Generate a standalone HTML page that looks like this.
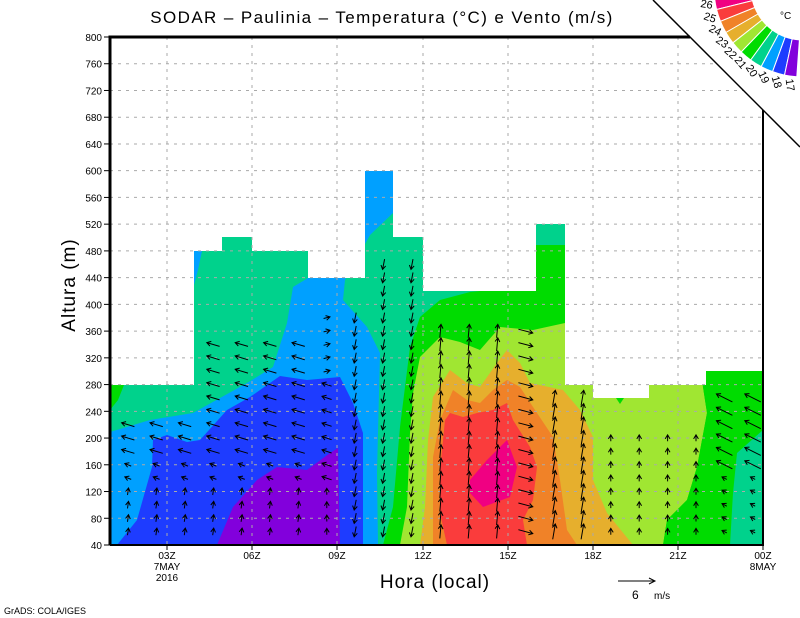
<!DOCTYPE html>
<html><head><meta charset="utf-8"><style>
html,body{margin:0;padding:0;background:#fff;}
svg{display:block;font-family:"Liberation Sans",sans-serif;}
</style></head><body>
<svg id="s" width="800" height="618" viewBox="0 0 800 618" xmlns="http://www.w3.org/2000/svg">
<defs><clipPath id="pc"><polygon points="110,37 690,37 763,110 763,545 110,545"/></clipPath></defs>
<g clip-path="url(#pc)">
<rect x="110" y="37" width="653" height="508" fill="#00d28c"/>
<polygon fill="#00a0ff" points="110,432 150,420 193,413 247,383 273,367 287,323 293,287 308,278 345,278 365,270 365,171 393,171 393,213 370,235 345,280 343,300 367,327 380,353 377,473 378,545 110,545"/>
<polygon fill="#00a0ff" points="194,251 202,251 198,270 194,285"/>
<polygon fill="#1e3cff" points="117,545 137,520 152,467 153,440 167,435 187,442 200,440 227,410 250,397 280,376 307,380 340,377 353,403 363,433 363,545"/>
<polygon fill="#8200dc" points="217,545 233,507 257,480 277,467 307,470 330,453 338,448 340,545"/>
<polygon fill="#00dc00" points="383,545 393,507 400,427 410,347 420,317 440,300 470,292 480,291 536,291 536,245 565,245 565,291 763,291 763,545"/>
<polygon fill="#a0e632" points="400,545 407,507 410,433 413,393 420,357 440,337 460,342 480,350 500,327 533,330 565,323 593,320 690,320 703,387 707,413 697,467 687,500 667,520 663,545"/>
<polygon fill="#e6af2d" points="420,545 425,507 428,440 433,397 450,370 467,383 480,387 497,363 507,350 520,363 530,383 563,390 580,410 593,437 593,480 607,513 633,545"/>
<polygon fill="#f08228" points="433,545 433,507 433,457 440,420 453,390 467,400 480,403 493,390 507,380 520,387 533,407 553,437 560,480 567,530 577,545"/>
<polygon fill="#fa3c3c" points="447,545 440,513 440,470 445,420 450,413 463,417 477,413 493,410 507,403 513,420 530,447 537,467 533,500 523,520 527,545"/>
<polygon fill="#f00082" points="470,480 487,460 507,440 517,467 510,497 483,507 470,493"/>
<polygon fill="#00dc00" points="703,371 763,371 763,545 663,545 667,520 687,500 697,467 707,413 703,387"/>
<polygon fill="#00d28c" points="763,430 737,453 733,493 730,545 763,545"/>
<polygon fill="#00dc00" points="616,398 624,398 620,404"/>
<polygon fill="#00dc00" points="110,410 118,400 124,385 110,385"/>
<polygon fill="#fff" points="110,37 763,37 763,371 706,371 706,385 649,385 649,398 593,398 593,385 565,385 565,224 536,224 536,291 423,291 423,237 393,237 393,171 365,171 365,278 308,278 308,251 252,251 252,237 222,237 222,251 194,251 194,385 110,385"/>
<g id="grid" stroke="#aaa" stroke-width="1" stroke-dasharray="3,5"></g>
<g id="arr" stroke="#000" stroke-width="1" fill="none"></g>
</g>
<g id="ticks" stroke="#000" stroke-width="1"></g>
<g id="lbl" font-size="10" fill="#000"></g>
<path d="M110,545 L110,37 L690,37" stroke="#000" stroke-width="3" fill="none"/>
<path d="M110,545 L763,545 L763,110" stroke="#000" stroke-width="2" fill="none"/>
<line x1="653" y1="0" x2="800" y2="147" stroke="#000" stroke-width="1.5"/>
<g id="wheel"></g>
<text x="780" y="19" font-size="10">°C</text>
<text x="382" y="23" font-size="17" text-anchor="middle" letter-spacing="1.4">SODAR – Paulinia – Temperatura (°C) e Vento (m/s)</text>
<text x="75" y="285" font-size="19" text-anchor="middle" transform="rotate(-90 75 285)" letter-spacing="1">Altura (m)</text>
<text x="435" y="588" font-size="19" text-anchor="middle" letter-spacing="1">Hora (local)</text>
<text x="167" y="570" font-size="10" text-anchor="middle">7MAY</text>
<text x="167" y="581" font-size="10" text-anchor="middle">2016</text>
<text x="763" y="570" font-size="10" text-anchor="middle">8MAY</text>
<line x1="618" y1="581" x2="655" y2="581" stroke="#000"/>
<path d="M649,578 L655,581 L649,584" stroke="#000" fill="none"/>
<text x="632" y="599" font-size="12">6</text><text x="654" y="599" font-size="10">m/s</text>
<text x="4" y="614" font-size="9">GrADS: COLA/IGES</text>
</svg>
<script>
var NS="http://www.w3.org/2000/svg";
function el(p,t,a,txt){var e=document.createElementNS(NS,t);for(var k in a)e.setAttribute(k,a[k]);if(txt)e.textContent=txt;document.getElementById(p).appendChild(e);}
function Y(m){return 545-(m-40)*0.66842;}
var xs=[167,252,337,423,508,593,678,763],xl=["03Z","06Z","09Z","12Z","15Z","18Z","21Z","00Z"];
for(var m=80;m<=760;m+=40){el("grid","line",{x1:110,x2:763,y1:Y(m),y2:Y(m)});}
for(var i=0;i<7;i++){el("grid","line",{x1:xs[i],x2:xs[i],y1:37,y2:545});}
for(var m=40;m<=800;m+=40){el("ticks","line",{x1:104,x2:110,y1:Y(m),y2:Y(m)});el("lbl","text",{x:102,y:Y(m)+4,"text-anchor":"end"},String(m));}
for(var i=0;i<8;i++){el("ticks","line",{x1:xs[i],x2:xs[i],y1:545,y2:550});el("lbl","text",{x:xs[i],y:559,"text-anchor":"middle"},xl[i]);}
var cols=["#f00082","#fa3c3c","#f08228","#e6af2d","#a0e632","#00dc00","#00d28c","#00a0ff","#1e3cff","#8200dc"];
var cx=803,cy=-12,r0=52,r1=89;
function P(r,a){return (cx+r*Math.cos(a)).toFixed(1)+","+(cy+r*Math.sin(a)).toFixed(1);}
for(var i=0;i<10;i++){var d0=174-8*i,d1=d0-8,a0=d0*Math.PI/180,a1=d1*Math.PI/180;
el("wheel","path",{d:"M"+P(r0,a0)+" L"+P(r1,a0)+" A"+r1+","+r1+" 0 0 0 "+P(r1,a1)+" L"+P(r0,a1)+" A"+r0+","+r0+" 0 0 1 "+P(r0,a0)+"Z",fill:cols[i],stroke:"#fff","stroke-width":1});
var ab=d0-4,a=ab*Math.PI/180,lx=cx+98*Math.cos(a),ly=cy+98*Math.sin(a);
el("wheel","text",{x:lx,y:ly,"font-size":11,"text-anchor":"middle","dominant-baseline":"middle",transform:"rotate("+(180-ab)+" "+lx+" "+ly+")"},String(26-i));}
var steps=[[110,194,280],[194,222,480],[222,252,500],[252,308,480],[308,365,440],[365,393,600],[393,423,500],[423,536,420],[536,565,520],[565,593,280],[593,649,260],[649,706,280],[706,764,300]];
function topm(x){for(var i=0;i<steps.length;i++)if(x>=steps[i][0]&&x<steps[i][1])return steps[i][2];return 0;}
function cap(x){if(x<194)return 220;if(x<300)return 340;if(x<365)return 380;if(x<440)return 460;if(x<536)return 360;if(x<600)return 260;if(x<700)return 200;return 260;}
function wind(x,m){
 if(x<300){ if(m<130)return [0.3,2.2]; if(m<180)return [-2,0.8]; return [-4,1.2];}
 if(x<350){ if(m<140)return [0,2]; if(m<300)return [-3,1];return [2,0.5];}
 if(x<425)return [-0.6,-3.2];
 if(x<500)return [0.4,4.2];
 if(x<530)return [4.5,-1.2];
 if(x<590)return [0.8,4.8];
 if(x<700)return [0,2];
 if(m<150)return [-1.5,0.8];
 return [-5,2.5];}
for(var k=0;k<23;k++){var x=128+28.4*k;var tm=Math.min(topm(x)-20,cap(x));
 for(var m=60;m<=tm;m+=20){
  var w=wind(x,m);var u=w[0]*3.2,v=-w[1]*3.2;var y=Y(m);
  var x0=x-u/2,y0=y-v/2,x1=x+u/2,y1=y+v/2;var L=Math.sqrt(u*u+v*v)||1;var dx=u/L,dy=v/L;
  var h=4;var bx1=x1-h*dx-h*0.6*dy,by1=y1-h*dy+h*0.6*dx,bx2=x1-h*dx+h*0.6*dy,by2=y1-h*dy-h*0.6*dx;
  el("arr","path",{d:"M"+x0.toFixed(1)+","+y0.toFixed(1)+"L"+x1.toFixed(1)+","+y1.toFixed(1)+"M"+bx1.toFixed(1)+","+by1.toFixed(1)+"L"+x1.toFixed(1)+","+y1.toFixed(1)+"L"+bx2.toFixed(1)+","+by2.toFixed(1)});
 }}
</script>
</body></html>
